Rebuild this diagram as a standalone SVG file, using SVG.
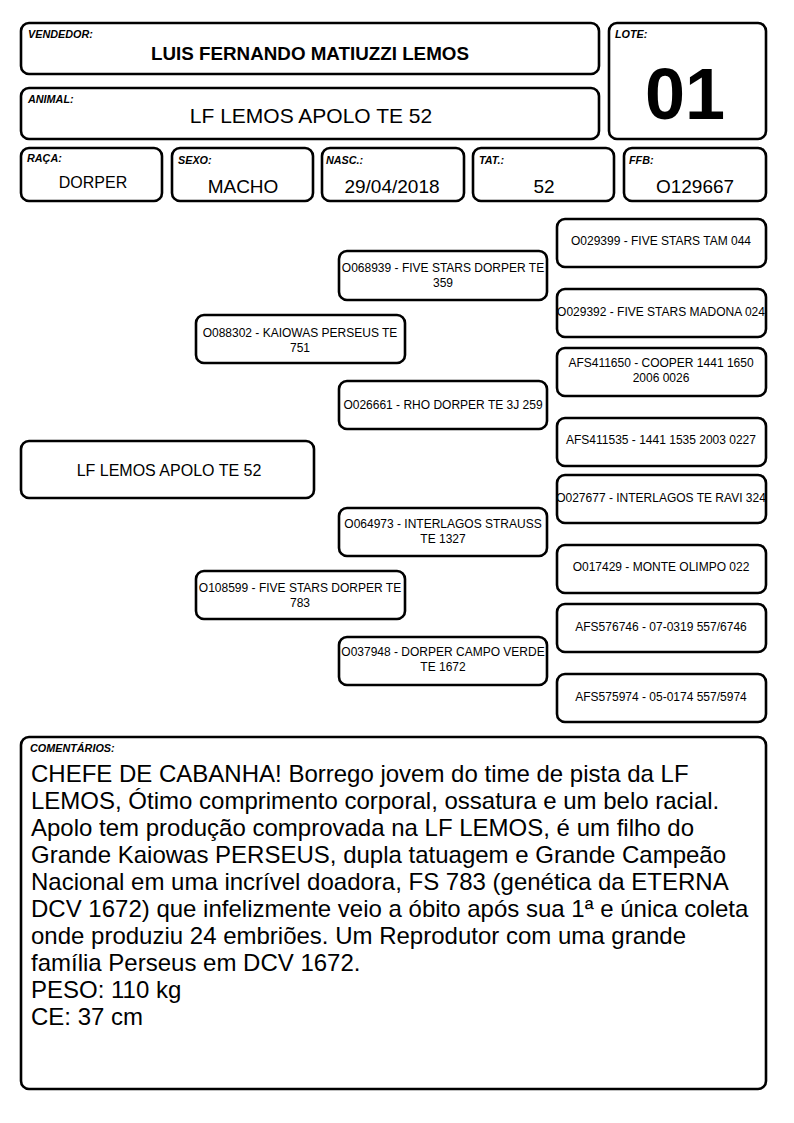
<svg xmlns="http://www.w3.org/2000/svg" width="794" height="1123" viewBox="0 0 794 1123">
<style>
.b{fill:#fff;stroke:#000;stroke-width:2.6}
text{font-family:"Liberation Sans",Arial,sans-serif}
.l{font-size:10.8px;font-weight:bold;font-style:italic}
.v{font-size:19px;text-anchor:middle}
.p{font-size:12px;text-anchor:middle}
.c{font-size:24px}
</style>
<rect width="794" height="1123" fill="#fff"/>
<g id="vendedor"><rect class="b" x="21" y="23" width="578" height="51" rx="8"/><text class="l" x="28" y="38">VENDEDOR:</text><text class="v" x="310" y="60" style="font-size:18.8px;font-weight:bold">LUIS FERNANDO MATIUZZI LEMOS</text></g>
<g id="animal"><rect class="b" x="21" y="88" width="578" height="51" rx="8"/><text class="l" x="28" y="103">ANIMAL:</text><text class="v" x="311" y="123" style="font-size:21px">LF LEMOS APOLO TE 52</text></g>
<g id="lote"><rect class="b" x="609" y="23" width="157" height="116" rx="8"/><text class="l" x="615" y="38">LOTE:</text><text class="v" x="685" y="119" style="font-size:72px;font-weight:bold">01</text></g>
<g id="raca"><rect class="b" x="21" y="148" width="141" height="53" rx="8"/><text class="l" x="27" y="162">RAÇA:</text><text class="v" x="93" y="188" style="font-size:16px">DORPER</text></g>
<g id="sexo"><rect class="b" x="172" y="148" width="141" height="53" rx="8"/><text class="l" x="178" y="164">SEXO:</text><text class="v" x="243" y="193">MACHO</text></g>
<g id="nasc"><rect class="b" x="322" y="148" width="142" height="53" rx="8"/><text class="l" x="326" y="164">NASC.:</text><text class="v" x="392" y="193">29/04/2018</text></g>
<g id="tat"><rect class="b" x="473" y="148" width="141" height="53" rx="8"/><text class="l" x="479" y="164">TAT.:</text><text class="v" x="544" y="193">52</text></g>
<g id="ffb"><rect class="b" x="624" y="148" width="142" height="53" rx="8"/><text class="l" x="629" y="164">FFB:</text><text class="v" x="695" y="193">O129667</text></g>
<g id="connectors"></g>
<g id="main"><rect class="b" x="21" y="441" width="293" height="57" rx="8"/><text class="v" x="169" y="476" style="font-size:16px">LF LEMOS APOLO TE 52</text></g>
<g id="sire"><rect class="b" x="196" y="315" width="209" height="48" rx="8"/><text class="p" x="300" y="337">O088302 - KAIOWAS PERSEUS TE</text><text class="p" x="300" y="352">751</text></g>
<g id="dam"><rect class="b" x="196" y="571" width="209" height="48" rx="8"/><text class="p" x="300" y="592">O108599 - FIVE STARS DORPER TE</text><text class="p" x="300" y="607">783</text></g>
<g id="ss"><rect class="b" x="339" y="251" width="208" height="49" rx="8"/><text class="p" x="443" y="272">O068939 - FIVE STARS DORPER TE</text><text class="p" x="443" y="287">359</text></g>
<g id="sd"><rect class="b" x="339" y="381" width="208" height="48" rx="8"/><text class="p" x="443" y="409">O026661 - RHO DORPER TE 3J 259</text></g>
<g id="ds"><rect class="b" x="339" y="508" width="208" height="48" rx="8"/><text class="p" x="443" y="528">O064973 - INTERLAGOS STRAUSS</text><text class="p" x="443" y="543">TE 1327</text></g>
<g id="dd"><rect class="b" x="339" y="637" width="208" height="48" rx="8"/><text class="p" x="443" y="656">O037948 - DORPER CAMPO VERDE</text><text class="p" x="443" y="671">TE 1672</text></g>
<g id="sss"><rect class="b" x="557" y="219" width="209" height="48" rx="8"/><text class="p" x="661" y="245">O029399 - FIVE STARS TAM 044</text></g>
<g id="ssd"><rect class="b" x="557" y="289" width="209" height="48" rx="8"/><text class="p" x="661" y="316">O029392 - FIVE STARS MADONA 024</text></g>
<g id="sds"><rect class="b" x="557" y="348" width="209" height="48" rx="8"/><text class="p" x="661" y="367">AFS411650 - COOPER 1441 1650</text><text class="p" x="661" y="382">2006 0026</text></g>
<g id="sdd"><rect class="b" x="557" y="418" width="209" height="48" rx="8"/><text class="p" x="661" y="444">AFS411535 - 1441 1535 2003 0227</text></g>
<g id="dss"><rect class="b" x="557" y="475" width="209" height="48" rx="8"/><text class="p" x="661" y="502">O027677 - INTERLAGOS TE RAVI 324</text></g>
<g id="dsd"><rect class="b" x="557" y="545" width="209" height="48" rx="8"/><text class="p" x="661" y="571">O017429 - MONTE OLIMPO 022</text></g>
<g id="dds"><rect class="b" x="557" y="604" width="209" height="48" rx="8"/><text class="p" x="661" y="631">AFS576746 - 07-0319 557/6746</text></g>
<g id="ddd"><rect class="b" x="557" y="674" width="209" height="48" rx="8"/><text class="p" x="661" y="701">AFS575974 - 05-0174 557/5974</text></g>
<g id="comentarios"><rect class="b" x="21" y="737" width="745" height="352" rx="8"/><text class="l" x="30" y="752">COMENTÁRIOS:</text>
<text class="c" x="31"><tspan x="31" y="782">CHEFE DE CABANHA! Borrego jovem do time de pista da LF</tspan><tspan x="31" y="809">LEMOS, Ótimo comprimento corporal, ossatura e um belo racial.</tspan><tspan x="31" y="836">Apolo tem produção comprovada na LF LEMOS, é um filho do</tspan><tspan x="31" y="863">Grande Kaiowas PERSEUS, dupla tatuagem e Grande Campeão</tspan><tspan x="31" y="890">Nacional em uma incrível doadora, FS 783 (genética da ETERNA</tspan><tspan x="31" y="917">DCV 1672) que infelizmente veio a óbito após sua 1ª e única coleta</tspan><tspan x="31" y="944">onde produziu 24 embriões. Um Reprodutor com uma grande</tspan><tspan x="31" y="971">família Perseus em DCV 1672.</tspan><tspan x="31" y="998">PESO: 110 kg</tspan><tspan x="31" y="1025">CE: 37 cm</tspan></text></g>
</svg>
